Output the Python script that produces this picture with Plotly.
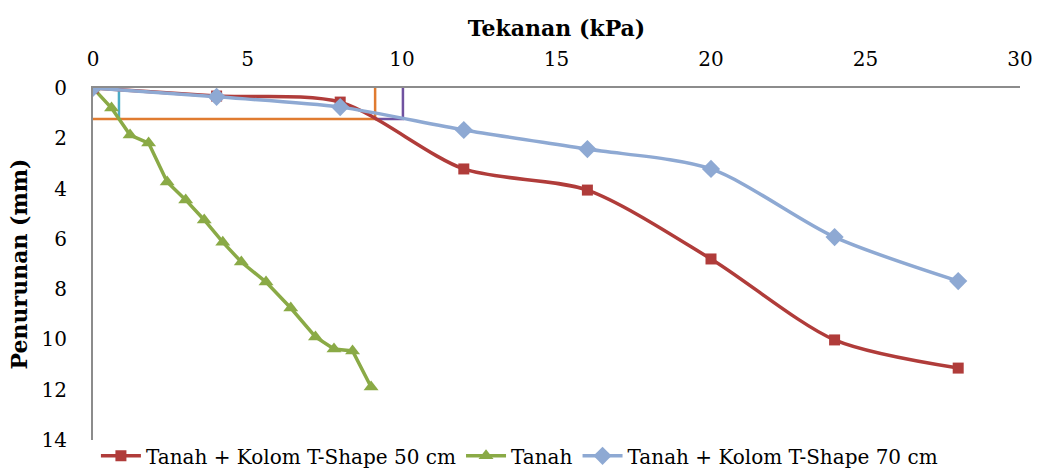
import plotly.graph_objects as go

# Data
x_50 = [0, 4, 8, 12, 16, 20, 24, 28]
y_50 = [0, 0.32, 0.56, 3.22, 4.06, 6.8, 10.02, 11.14]

x_70 = [0, 4, 8, 12, 16, 20, 24, 28]
y_70 = [0, 0.35, 0.76, 1.67, 2.43, 3.22, 5.93, 7.68]

x_tanah = [0, 0.6, 1.2, 1.8, 2.4, 3.0, 3.6, 4.2, 4.8, 5.6, 6.4, 7.2, 7.8, 8.4, 9.0]
y_tanah = [0, 0.8, 1.87, 2.19, 3.74, 4.45, 5.25, 6.13, 6.92, 7.72, 8.75, 9.9, 10.38, 10.46, 11.89]

# helper lines
cyan_x = [0.84, 0.84]
cyan_y = [0, 1.23]
orange_x = [0, 9.13, 9.13]
orange_y = [1.23, 1.23, 0]
purple_x = [9.13, 10.03, 10.03]
purple_y = [1.23, 1.23, 0]

F = "DejaVu Serif"

fig = go.Figure()
fig.add_trace(go.Scatter(x=cyan_x, y=cyan_y, mode="lines", line=dict(color="#4BACC6", width=2.5),
                         showlegend=False, hoverinfo="skip"))
fig.add_trace(go.Scatter(x=orange_x, y=orange_y, mode="lines", line=dict(color="#E07B30", width=2.5),
                         showlegend=False, hoverinfo="skip"))
fig.add_trace(go.Scatter(x=purple_x, y=purple_y, mode="lines", line=dict(color="#7052A0", width=2.5),
                         showlegend=False, hoverinfo="skip"))
fig.add_trace(go.Scatter(x=x_tanah, y=y_tanah, mode="lines+markers", name="Tanah",
                         line=dict(color="#8AAA46", width=3.5),
                         marker=dict(symbol="triangle-up", size=13, color="#8AAA46")))
fig.add_trace(go.Scatter(x=x_50, y=y_50, mode="lines+markers", name="Tanah + Kolom T-Shape 50 cm",
                         line=dict(color="#B03C3A", width=3.5, shape="spline", smoothing=0.8),
                         marker=dict(symbol="square", size=11, color="#B03C3A")))
fig.add_trace(go.Scatter(x=x_70, y=y_70, mode="lines+markers", name="Tanah + Kolom T-Shape 70 cm",
                         line=dict(color="#8EA9D3", width=3.5, shape="spline", smoothing=0.8),
                         marker=dict(symbol="diamond", size=14, color="#8EA9D3")))

fig.data[3].legendrank = 2
fig.data[4].legendrank = 1
fig.data[5].legendrank = 3

fig.update_layout(
    width=1043, height=471,
    margin=dict(l=93, r=23, t=88, b=31, autoexpand=False),
    paper_bgcolor="white", plot_bgcolor="white",
    font=dict(family=F, size=20, color="black"),
    showlegend=True,
    legend=dict(orientation="h", x=0.46, xanchor="center", y=-0.045, yanchor="middle",
                font=dict(family=F, size=20), bgcolor="rgba(0,0,0,0)",
                itemwidth=40, tracegroupgap=0),
    xaxis=dict(side="top", range=[0, 30], tickvals=[0, 5, 10, 15, 20, 25, 30],
               showgrid=False, zeroline=False, showline=True, linecolor="#8C8C8C", linewidth=2,
               ticks="", ticklabelstandoff=12, tickfont=dict(family=F, size=20),
               title=dict(text="<b>Tekanan (kPa)</b>", font=dict(family=F, size=22), standoff=4)),
    yaxis=dict(range=[14, 0], tickvals=[0, 2, 4, 6, 8, 10, 12, 14],
               showgrid=False, zeroline=False, showline=True, linecolor="#8C8C8C", linewidth=2,
               ticks="", ticklabelstandoff=20, tickfont=dict(family=F, size=20),
               title=dict(text="<b>Penurunan (mm)</b>", font=dict(family=F, size=22), standoff=8)),
)

fig.write_html("out.html")
